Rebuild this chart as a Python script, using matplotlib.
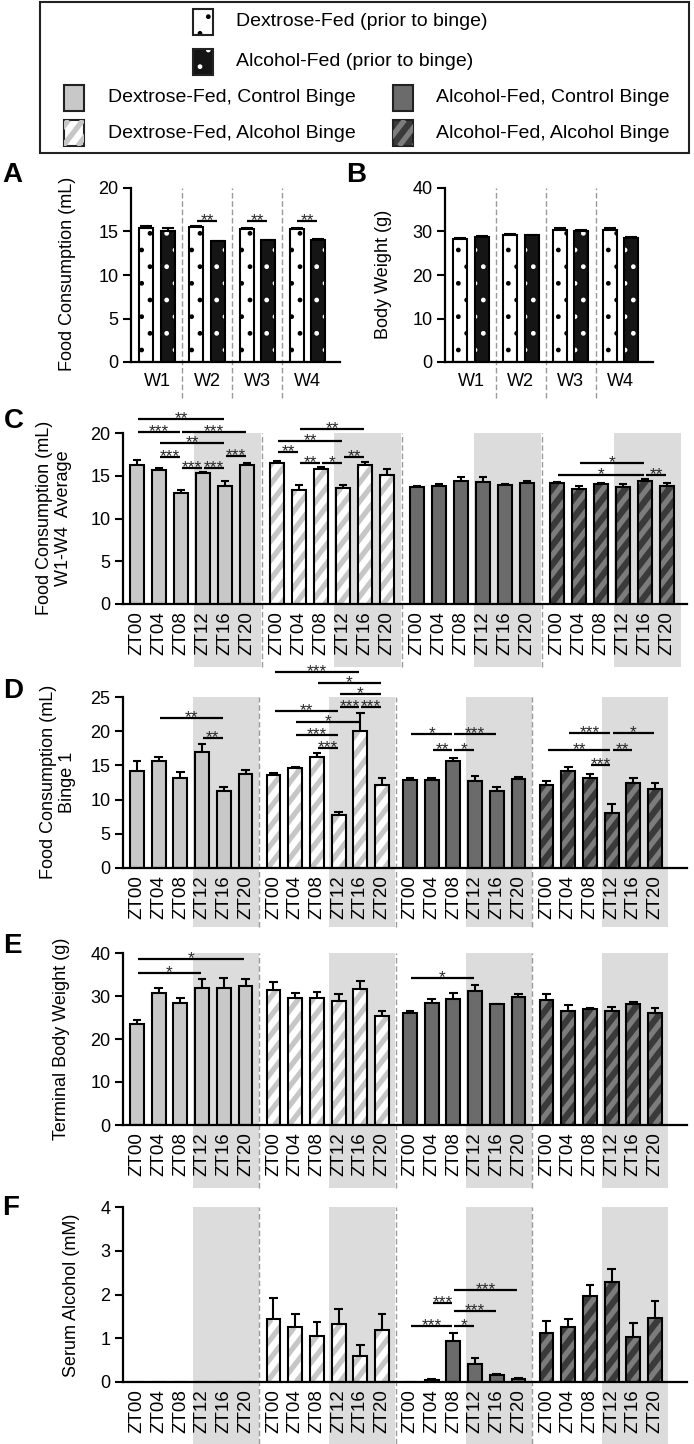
"""Binge feeding figure, panels A-F, redrawn with matplotlib."""

import numpy as np
import matplotlib
matplotlib.use("Agg")
import matplotlib.pyplot as plt
import matplotlib.transforms as mtransforms
from matplotlib.collections import LineCollection
from matplotlib.patches import Rectangle

W, H = 694, 1444

# ---- data ----
weeks = ["W1", "W2", "W3", "W4"]
zt_labels = ["ZT00", "ZT04", "ZT08", "ZT12", "ZT16", "ZT20"]

# A: food consumption (mL), prior to binge
a_dex = [15.4, 15.5, 15.3, 15.3]
a_dex_sem = [0.2, 0.1, 0.15, 0.15]
a_alc = [15.1, 13.9, 14.0, 14.05]
a_alc_sem = [0.3, 0.05, 0.05, 0.05]
a_sig = [(1, 16.2, "**"), (2, 16.2, "**"), (3, 16.2, "**")]

# B: body weight (g), prior to binge
b_dex = [28.2, 29.2, 30.3, 30.3]
b_dex_sem = [0.2, 0.15, 0.5, 0.5]
b_alc = [28.8, 29.2, 30.2, 28.5]
b_alc_sem = [0.15, 0.1, 0.15, 0.15]

# groups: dex/control, dex/alcohol, alc/control, alc/alcohol
c_mean = [
    [16.2, 15.7, 13.0, 15.3, 13.8, 16.2],
    [16.5, 13.3, 15.8, 13.6, 16.2, 15.1],
    [13.7, 13.8, 14.4, 14.3, 13.9, 14.2],
    [14.1, 13.5, 14.0, 13.7, 14.4, 13.8],
]
c_sem = [
    [0.7, 0.15, 0.3, 0.15, 0.6, 0.3],
    [0.2, 0.6, 0.2, 0.3, 0.4, 0.7],
    [0.1, 0.2, 0.5, 0.5, 0.1, 0.15],
    [0.2, 0.3, 0.2, 0.3, 0.2, 0.3],
]
c_sig = [
    (0, 0, 4, 21.6, "**"), (0, 0, 2, 20.15, "***"), (0, 2, 5, 20.15, "***"),
    (0, 1, 4, 18.8, "**"), (0, 1, 2, 17.2, "***"), (0, 2, 3, 15.9, "***"),
    (0, 3, 4, 15.9, "***"), (0, 4, 5, 17.3, "***"),
    (1, 1, 4, 20.5, "**"), (1, 0, 3, 19.1, "**"), (1, 0, 1, 17.8, "**"),
    (1, 1, 2, 16.5, "**"), (1, 2, 3, 16.5, "*"), (1, 3, 4, 17.2, "**"),
    (3, 1, 4, 16.5, "*"), (3, 0, 4, 15.1, "*"), (3, 4, 5, 15.1, "**"),
]

d_mean = [
    [14.2, 15.6, 13.2, 17.0, 11.2, 13.8],
    [13.6, 14.6, 16.2, 7.8, 20.0, 12.2],
    [12.8, 12.8, 15.6, 12.7, 11.2, 13.0],
    [12.2, 14.2, 13.2, 8.0, 12.4, 11.6],
]
d_sem = [
    [1.5, 0.6, 0.9, 1.1, 0.6, 0.6],
    [0.3, 0.2, 0.6, 0.4, 2.7, 0.9],
    [0.4, 0.4, 0.5, 0.7, 0.7, 0.3],
    [0.5, 0.6, 0.5, 1.3, 0.8, 0.9],
]
d_sig = [
    (0, 1, 4, 22.0, "**"), (0, 3, 4, 19.0, "**"),
    (1, 0, 4, 28.7, "***"), (1, 2, 5, 27.1, "*"), (1, 3, 5, 25.5, "*"),
    (1, 3, 4, 23.6, "***"), (1, 4, 5, 23.6, "***"), (1, 0, 3, 23.0, "**"),
    (1, 1, 4, 21.4, "*"), (1, 1, 3, 19.5, "***"), (1, 2, 3, 17.6, "***"),
    (2, 0, 2, 19.6, "*"), (2, 2, 4, 19.6, "***"), (2, 1, 2, 17.2, "**"),
    (2, 2, 3, 17.2, "*"),
    (3, 1, 3, 19.7, "***"), (3, 3, 5, 19.7, "*"), (3, 0, 3, 17.3, "**"),
    (3, 3, 4, 17.3, "**"), (3, 2, 3, 15.1, "***"),
]

e_mean = [
    [23.5, 30.6, 28.4, 31.9, 31.8, 32.4],
    [31.4, 29.5, 29.5, 28.9, 31.6, 25.4],
    [26.0, 28.4, 29.2, 31.2, 28.1, 29.7],
    [29.1, 26.5, 26.9, 26.6, 28.1, 26.0],
]
e_sem = [
    [0.9, 1.3, 1.1, 2.0, 2.3, 1.5],
    [1.8, 1.3, 1.5, 1.6, 2.0, 1.1],
    [0.4, 0.9, 1.4, 1.4, 0.1, 0.8],
    [1.3, 1.3, 0.3, 0.8, 0.6, 1.1],
]
e_sig = [(0, 0, 5, 38.6, "*"), (0, 0, 3, 35.4, "*"), (2, 0, 3, 34.1, "*")]

f_mean = [
    [0, 0, 0, 0, 0, 0],
    [1.43, 1.25, 1.06, 1.33, 0.59, 1.20],
    [0, 0.05, 0.94, 0.41, 0.16, 0.08],
    [1.12, 1.25, 1.96, 2.28, 1.02, 1.47],
]
f_sem = [
    [0, 0, 0, 0, 0, 0],
    [0.49, 0.31, 0.32, 0.35, 0.25, 0.36],
    [0, 0.03, 0.18, 0.15, 0.03, 0.02],
    [0.28, 0.18, 0.26, 0.31, 0.34, 0.39],
]
f_sig = [
    (2, 2, 5, 2.11, "***"), (2, 1, 2, 1.81, "***"), (2, 2, 4, 1.62, "***"),
    (2, 0, 2, 1.29, "***"), (2, 2, 3, 1.29, "*"),
]

# ---- styles: (face, kind, pattern colour) ----
dex_prior = ("white", "dots", "black")
alc_prior = ("#151515", "dots", "white")
group_styles = [
    ("#c8c8c8", None, None),
    ("white", "stripes", "#c6c6c6"),
    ("#6b6b6b", None, None),
    ("#3a3a3a", "stripes", "#7c7c7c"),
]
SHADE = "#dcdcdc"

plt.rcParams["font.family"] = ["Liberation Sans", "DejaVu Sans"]
plt.rcParams["hatch.linewidth"] = 1.0

fig = plt.figure(figsize=(W / 100, H / 100), dpi=100)


def add_ax(left, top, right, bottom):
    # pixel edges, origin top-left
    return fig.add_axes([left / W, 1 - bottom / H, (right - left) / W, (bottom - top) / H])


def fig_text(x, y, s, **kw):
    fig.text(x / W, 1 - y / H, s, **kw)


def add_stripes(ax, patches, color, gap=19.0, slope=1.3, lw=3.8):
    """Diagonal stripes drawn in pixel space, clipped to each patch."""
    hs = gap / slope
    for p in patches:
        bb = p.get_window_extent()
        if bb.height <= 1:
            continue
        k0 = np.floor((bb.x0 - bb.y1 / slope) / hs)
        k1 = np.ceil((bb.x1 - bb.y0 / slope) / hs)
        segs = [[(k * hs + bb.y0 / slope, bb.y0), (k * hs + bb.y1 / slope, bb.y1)]
                for k in np.arange(k0, k1 + 1)]
        lc = LineCollection(segs, colors=color, linewidths=lw,
                            transform=mtransforms.IdentityTransform(), zorder=2.5)
        ax.add_collection(lc, autolim=False)
        # after add_collection, otherwise the axes clip box wins
        lc.set_clip_path(p)


def draw_bars(ax, x, h, err, style, width, cap):
    x = np.asarray(x, float)
    h = np.asarray(h, float)
    err = np.asarray(err, float)
    face, kind, pcolor = style
    if kind == "dots":
        ax.bar(x, h, width, color=face, edgecolor=pcolor, linewidth=0, hatch=".", zorder=2)
    else:
        fill = ax.bar(x, h, width, color=face, linewidth=0, zorder=2)
        if kind == "stripes":
            add_stripes(ax, fill, pcolor)
    ax.bar(x, h, width, facecolor="none", edgecolor="black", linewidth=1.5, zorder=3)
    m = err > 0
    ax.vlines(x[m], h[m], h[m] + err[m], color="black", lw=1.5, zorder=1.5)
    ax.hlines(h[m] + err[m], x[m] - cap, x[m] + cap, color="black", lw=1.5, zorder=1.5)


def sig_line(ax, x1, x2, y, lab):
    ax.plot([x1, x2], [y, y], color="black", lw=1.6, clip_on=False,
            solid_capstyle="butt", zorder=4)
    ax.annotate(lab, ((x1 + x2) / 2, y), xytext=(0, -3.0), textcoords="offset points",
                ha="center", va="baseline", fontsize=12.5, color="#262626",
                annotation_clip=False)


def style_y(ax, ymax, ystep):
    ax.set_ylim(0, ymax)
    ax.set_yticks(list(range(0, ymax + 1, ystep)))
    for s in ("top", "right"):
        ax.spines[s].set_visible(False)
    for s in ("left", "bottom"):
        ax.spines[s].set_linewidth(1.6)
    ax.tick_params(axis="y", length=6, width=1.5, labelsize=13, pad=3)
    ax.patch.set_alpha(0)


def week_panel(left, right, dex, dex_sem, alc, alc_sem, ymax, ystep, sig):
    ax = add_ax(left, 188, right, 362)
    style_y(ax, ymax, ystep)
    xc = np.arange(len(weeks))
    ax.set_xlim(-0.52, 3.65)
    draw_bars(ax, xc - 0.215, dex, dex_sem, dex_prior, 0.28, 0.12)
    draw_bars(ax, xc + 0.215, alc, alc_sem, alc_prior, 0.28, 0.12)
    trans = mtransforms.blended_transform_factory(ax.transData, ax.transAxes)
    for xd in xc[:-1] + 0.5:
        ax.plot([xd, xd], [-0.207, 1], transform=trans, color="#9a9a9a", lw=1,
                ls=(0, (4, 2)), clip_on=False, zorder=0.5)
    ax.set_xticks(xc)
    ax.set_xticklabels(weeks, fontsize=13)
    ax.tick_params(axis="x", length=0, pad=8)
    for k, y, lab in sig:
        sig_line(ax, k - 0.2, k + 0.2, y, lab)
    return ax


def zt_panel(top, bottom, shade_bottom, unit, step, mean, sem, ymax, ystep, sig):
    ax = add_ax(123, top, 687, bottom)
    style_y(ax, ymax, ystep)
    ax.set_xlim((123 - 137) / unit, (687 - 137) / unit)
    xs = [[g * step + i for i in range(6)] for g in range(4)]
    trans = mtransforms.blended_transform_factory(ax.transData, ax.transAxes)
    fb = (bottom - shade_bottom) / (bottom - top)
    for g in range(4):
        ax.add_patch(Rectangle((xs[g][3] - 0.42, fb), 2 + 0.42 + 0.62, 1 - fb,
                               transform=trans, facecolor=SHADE, lw=0,
                               clip_on=False, zorder=0))
        draw_bars(ax, xs[g], mean[g], sem[g], group_styles[g], 0.64, 0.2)
    for g in range(3):
        xd = g * step + 5 + (step - 5) / 2
        ax.plot([xd, xd], [fb, 1], transform=trans, color="#9a9a9a", lw=1,
                ls=(0, (4, 2)), clip_on=False, zorder=0.5)
    ax.set_xticks([x for row in xs for x in row])
    ax.set_xticklabels(zt_labels * 4, rotation=90, fontsize=13.5)
    ax.tick_params(axis="x", length=0, pad=5)
    for g, i, j, y, lab in sig:
        sig_line(ax, xs[g][i] + 0.05, xs[g][j] - 0.05, y, lab)
    return ax


# ---- panels ----
week_panel(131, 340, a_dex, a_dex_sem, a_alc, a_alc_sem, 20, 5, a_sig)
week_panel(445, 653, b_dex, b_dex_sem, b_alc, b_alc_sem, 40, 10, [])
zt_panel(433, 604, 667, 22.0, 6.364, c_mean, c_sem, 20, 5, c_sig)
zt_panel(697, 868, 927, 21.7, 6.29, d_mean, d_sem, 25, 5, d_sig)
zt_panel(953, 1125, 1188, 21.7, 6.29, e_mean, e_sem, 40, 10, e_sig)
zt_panel(1207, 1382, 1444, 21.7, 6.29, f_mean, f_sem, 4, 1, f_sig)

# ---- axis titles and panel letters ----
lab_kw = dict(rotation=90, ha="center", va="center", fontsize=13, multialignment="center")
fig_text(68, 274, "Food Consumption (mL)", **lab_kw)
fig_text(383, 274, "Body Weight (g)", **lab_kw)
fig_text(54, 518, "Food Consumption (mL)\nW1-W4  Average", **lab_kw)
fig_text(58, 782, "Food Consumption (mL)\nBinge 1", **lab_kw)
fig_text(61, 1039, "Terminal Body Weight (g)", **lab_kw)
fig_text(72, 1295, "Serum Alcohol (mM)", **lab_kw)

letter_kw = dict(fontsize=20, fontweight="bold", ha="left", va="top")
for x, y, s in [(2, 162, "A"), (346, 162, "B"), (4, 408, "C"),
                (3, 678, "D"), (3, 933, "E"), (2, 1195, "F")]:
    fig_text(x, y, s, **letter_kw)

# ---- legend box ----
lax = fig.add_axes([0, 0, 1, 1])
lax.set_xlim(0, W)
lax.set_ylim(H, 0)
lax.axis("off")
lax.add_patch(Rectangle((40, 2), 649, 151, fill=False, lw=1.5, edgecolor="#222222"))


def legend_entry(px, py, tx, text, style):
    face, kind, pcolor = style
    if kind == "dots":
        p = Rectangle((px, py - 13), 20, 26, facecolor=face, edgecolor=pcolor,
                      lw=0, hatch=".")
    else:
        p = Rectangle((px, py - 13), 20, 26, facecolor=face, lw=0)
    lax.add_patch(p)
    if kind == "stripes":
        add_stripes(lax, [p], pcolor)
    lax.add_patch(Rectangle((px, py - 13), 20, 26, fill=False, lw=1.5, edgecolor="#222222"))
    lax.text(tx, py, text, fontsize=14, ha="left", va="center")


legend_entry(193, 22, 236, "Dextrose-Fed (prior to binge)", dex_prior)
legend_entry(193, 62, 236, "Alcohol-Fed (prior to binge)", alc_prior)
legend_entry(64, 98, 108, "Dextrose-Fed, Control Binge", group_styles[0])
legend_entry(64, 133, 108, "Dextrose-Fed, Alcohol Binge", group_styles[1])
legend_entry(393, 98, 436, "Alcohol-Fed, Control Binge", group_styles[2])
legend_entry(393, 133, 436, "Alcohol-Fed, Alcohol Binge", group_styles[3])

fig.savefig("out.png", dpi=100)
